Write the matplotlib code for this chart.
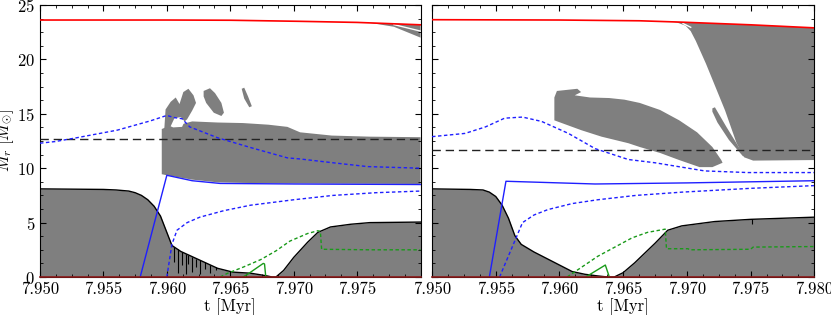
import numpy as np
import matplotlib
matplotlib.use("Agg")
import matplotlib.pyplot as plt
from matplotlib.ticker import MultipleLocator, FormatStrFormatter

plt.rcParams['font.family'] = 'serif'
plt.rcParams['font.serif'] = ['cmr10', 'DejaVu Serif']
plt.rcParams['mathtext.fontset'] = 'cm'
plt.rcParams['axes.formatter.use_mathtext'] = True

GREY = '#7f7f7f'

# ---------------- LEFT PANEL DATA ----------------
L_tot_t = [7.950, 7.960, 7.965, 7.9705, 7.975, 7.980]
L_tot_M = [23.62, 23.62, 23.60, 23.50, 23.40, 23.18]

L_env_t = [7.9745, 7.9758, 7.9779, 7.9800, 7.9800, 7.9779, 7.9758, 7.9745]
L_env_M = [23.42, 23.40, 23.00, 22.00, 23.18, 23.30, 23.38, 23.42]
L_env_gap_t = [7.9779, 7.9800]
L_env_gap_M = [23.20, 22.60]

L_band_t = [7.9596, 7.9600, 7.9610, 7.9620, 7.9640, 7.9660, 7.9680, 7.9695, 7.9705, 7.9730, 7.9760, 7.9800]
L_band_hi = [13.6, 13.8, 14.0, 14.3, 14.2, 14.15, 14.0, 13.8, 13.3, 13.0, 12.9, 12.85]
L_band_lo = [9.45, 9.35, 9.15, 8.95, 8.70, 8.65, 8.62, 8.60, 8.60, 8.58, 8.57, 8.55]

L_blobA_t = [7.9598, 7.9599, 7.9603, 7.9607, 7.9610, 7.9613, 7.9617, 7.9621, 7.9623, 7.9620, 7.9616, 7.9612, 7.9598]
L_blobA_M = [13.6, 15.4, 16.1, 16.5, 15.9, 17.0, 17.3, 16.7, 16.0, 15.3, 14.5, 14.1, 13.6]
L_hole_t = [7.9603, 7.9606, 7.9611, 7.9614, 7.9612, 7.9605]
L_hole_M = [13.85, 14.6, 14.7, 14.3, 13.8, 13.75]
L_blobB_t = [7.9629, 7.9634, 7.9638, 7.9643, 7.9645, 7.9643, 7.9637, 7.9631, 7.9629]
L_blobB_M = [17.1, 17.35, 16.9, 16.0, 15.1, 14.8, 15.1, 16.0, 16.6]
L_blobC_t = [7.9659, 7.9661, 7.9664, 7.9667, 7.9665, 7.9661]
L_blobC_M = [17.3, 17.4, 16.6, 15.7, 15.6, 16.4]

L_core_t = [7.950, 7.955, 7.956, 7.957, 7.9575, 7.958, 7.9585, 7.959, 7.9595, 7.9600, 7.9604,
            7.9611, 7.9626, 7.9640, 7.9652, 7.9666, 7.9674, 7.9679, 7.9683, 7.9686, 7.9692,
            7.9700, 7.9711, 7.9719, 7.9729, 7.9745, 7.9760, 7.9800]
L_core_M = [8.1, 8.05, 8.0, 7.9, 7.75, 7.5, 7.1, 6.5, 5.6, 4.1, 2.9,
            2.35, 1.55, 0.8, 0.45, 0.35, 0.2, 0.1, 0.0, 0.0, 0.6,
            1.8, 3.2, 4.1, 4.6, 4.85, 5.0, 5.05]

L_spike_t = [7.9606, 7.9609, 7.9612, 7.9615, 7.9617, 7.9620, 7.9623, 7.9626, 7.9630, 7.9634, 7.9639]
L_spike_hi = [2.8, 2.6, 2.3, 2.15, 2.0, 1.85, 1.7, 1.55, 1.35, 1.1, 0.9]
L_spike_lo = [1.4, 0.4, 1.1, 0.3, 1.2, 0.5, 0.9, 0.3, 0.7, 0.4, 0.6]

L_bsol_t = [7.9579, 7.9600, 7.9620, 7.9642, 7.9700, 7.9800]
L_bsol_M = [0.0, 9.35, 8.85, 8.60, 8.55, 8.50]

L_bdlo_t = [7.9600, 7.9602, 7.9604, 7.9608, 7.9616, 7.9626, 7.9645, 7.9666, 7.9700, 7.9731, 7.9765, 7.9800]
L_bdlo_M = [0.0, 1.5, 3.0, 4.3, 5.0, 5.5, 6.1, 6.6, 7.1, 7.5, 7.75, 7.9]

L_bdhi_t = [7.9500, 7.9512, 7.9529, 7.9561, 7.9587, 7.9600, 7.9606, 7.9612, 7.9618, 7.9640,
            7.9666, 7.9695, 7.9705, 7.9731, 7.9758, 7.9800]
L_bdhi_M = [12.3, 12.45, 12.8, 13.5, 14.35, 14.85, 14.65, 14.55, 13.8, 12.8,
            11.9, 10.95, 10.85, 10.5, 10.15, 10.0]

L_gsol_t = [7.9660, 7.9663, 7.9676, 7.9677, 7.9678]
L_gsol_M = [0.0, 0.2, 1.25, 1.2, 0.0]

L_gdash_t = [7.9642, 7.9648, 7.9660, 7.9674, 7.9686, 7.9697, 7.9711, 7.9719, 7.9721, 7.9722, 7.9760, 7.9800]
L_gdash_M = [0.0, 0.35, 0.9, 1.6, 2.4, 3.3, 4.0, 4.25, 4.2, 2.55, 2.5, 2.5]

L_ref_M = 12.65

# ---------------- RIGHT PANEL DATA ----------------
R_tot_t = [7.950, 7.960, 7.9663, 7.9697, 7.9750, 7.9800]
R_tot_M = [23.65, 23.62, 23.55, 23.42, 23.18, 22.90]

R_env_t = [7.9683, 7.9692, 7.9699, 7.9703, 7.9707, 7.9715, 7.9730, 7.9739, 7.9745, 7.9752, 7.9800,
           7.9800, 7.9750, 7.9697, 7.9683]
R_env_M = [23.52, 23.40, 23.10, 22.60, 21.7, 19.6, 15.3, 12.3, 11.0, 10.70, 10.75,
           22.90, 23.18, 23.42, 23.52]
R_env_gap_t = [7.9697, 7.9703]
R_env_gap_M = [23.30, 22.95]

R_sliver_t = [7.9720, 7.9722, 7.9731, 7.9741, 7.9747, 7.9744, 7.9733, 7.9724, 7.9720]
R_sliver_M = [15.5, 15.6, 13.8, 11.9, 11.1, 11.1, 12.6, 14.2, 15.2]

R_blob_t = [7.9596, 7.9596, 7.9598, 7.9614, 7.9617, 7.9612, 7.9624, 7.9639, 7.9651, 7.9663,
            7.9679, 7.9694, 7.9708, 7.9720, 7.9727, 7.9728, 7.9720, 7.9710, 7.9694, 7.9679,
            7.9663, 7.9654, 7.9633, 7.9617, 7.9596]
R_blob_M = [14.4, 16.5, 17.1, 17.3, 17.0, 16.7, 16.5, 16.45, 16.3, 16.0,
            15.35, 14.4, 13.3, 11.95, 10.75, 10.5, 10.1, 10.1, 10.75, 11.4,
            11.95, 12.3, 12.9, 13.5, 14.4]

R_core_t = [7.950, 7.953, 7.954, 7.9545, 7.955, 7.9555, 7.956, 7.9565, 7.957, 7.958, 7.959,
            7.960, 7.961, 7.962, 7.963, 7.9638, 7.9643, 7.9650, 7.9659, 7.9667, 7.9675,
            7.9685, 7.9696, 7.9722, 7.9750, 7.9800]
R_core_M = [8.1, 8.05, 8.0, 7.8, 7.4, 6.6, 5.4, 3.8, 3.0, 2.3, 1.7,
            1.1, 0.5, 0.25, 0.1, 0.0, 0.0, 0.4, 1.3, 2.2, 3.1,
            4.3, 4.7, 5.1, 5.3, 5.5]
R_spike_t = [7.9751]
R_spike_hi = [5.35]
R_spike_lo = [4.9]

R_bsol_t = [7.9545, 7.9558, 7.9628, 7.9700, 7.9800]
R_bsol_M = [0.0, 8.8, 8.55, 8.65, 8.85]

R_bdlo_t = [7.9553, 7.9562, 7.9571, 7.9580, 7.9591, 7.9610, 7.9630, 7.9660, 7.9696, 7.9750, 7.9800]
R_bdlo_M = [0.0, 2.5, 5.0, 5.7, 6.2, 6.75, 7.1, 7.5, 7.8, 8.15, 8.4]

R_bdhi_t = [7.9500, 7.9526, 7.9542, 7.9557, 7.9571, 7.9586, 7.9607, 7.9628, 7.9654, 7.9675,
            7.9714, 7.9748, 7.9800]
R_bdhi_M = [12.9, 13.2, 13.8, 14.6, 14.7, 14.3, 13.2, 11.8, 10.8, 10.5,
            9.75, 9.6, 9.6]

R_gsol_t = [7.9621, 7.9622, 7.9636, 7.9639]
R_gsol_M = [0.0, 0.1, 1.1, 0.05]

R_gdash_t = [7.9606, 7.9630, 7.9657, 7.9669, 7.9683, 7.9684, 7.9701, 7.9702, 7.9750, 7.9752, 7.9800]
R_gdash_M = [0.0, 1.9, 3.6, 4.1, 4.4, 2.6, 2.6, 2.5, 2.55, 2.75, 2.8]

R_ref_M = 11.7

L_XTICKS = [7.950, 7.955, 7.960, 7.965, 7.970, 7.975]
R_XTICKS = [7.950, 7.955, 7.960, 7.965, 7.970, 7.975, 7.980]


def draw(ax, d, xticks):
    # convective zones
    ax.fill_between(d['core_t'], 0, d['core_M'], color=GREY, lw=0, zorder=1)
    for pt, pm in d['polys']:
        ax.fill(pt, pm, color=GREY, lw=0, zorder=1)
    for pt, pm in d['holes']:
        ax.fill(pt, pm, color='white', lw=0, zorder=1.5)
    for gt, gm in d['gaps']:
        ax.plot(gt, gm, color='white', lw=1.0, zorder=1.5)
    ax.vlines(d['spike_t'], d['spike_lo'], d['spike_hi'], color='black', lw=0.8, zorder=2)
    ax.plot(d['core_t'], d['core_M'], color='black', lw=1.0, zorder=3)
    # lines
    ax.plot(d['tot_t'], d['tot_M'], color='red', lw=1.2, zorder=4)
    ax.axhline(d['ref'], color='#222222', lw=1.0, dashes=(6, 3.5), zorder=4)
    ax.plot(d['bsol_t'], d['bsol_M'], color='#1f1fff', lw=1.0, zorder=4)
    ax.plot(d['bdlo_t'], d['bdlo_M'], color='#1f1fff', lw=1.0, dashes=(2.5, 1.8), zorder=4)
    ax.plot(d['bdhi_t'], d['bdhi_M'], color='#1f1fff', lw=1.0, dashes=(2.5, 1.8), zorder=4)
    ax.plot(d['gsol_t'], d['gsol_M'], color='#1a9a1a', lw=1.0, zorder=4)
    ax.plot(d['gdash_t'], d['gdash_M'], color='#1a9a1a', lw=1.0, dashes=(2.5, 1.8), zorder=4)
    ax.axhline(0, color='#8b1a1a', lw=1.2, zorder=5, clip_on=False)

    ax.set_xlim(7.950, 7.980)
    ax.set_ylim(0, 25)
    ax.set_xticks(xticks)
    ax.xaxis.set_major_formatter(FormatStrFormatter('%.3f'))
    ax.xaxis.set_minor_locator(MultipleLocator(0.00125))
    ax.yaxis.set_major_locator(MultipleLocator(5))
    ax.yaxis.set_minor_locator(MultipleLocator(1.25))
    ax.tick_params(which='both', direction='in', top=True, right=True, labelsize=12)
    ax.tick_params(which='major', length=4, width=0.8)
    ax.tick_params(which='minor', length=2, width=0.6)
    for s in ax.spines.values():
        s.set_linewidth(0.8)
    ax.set_xlabel('t [Myr]', fontsize=12, labelpad=1)


fig = plt.figure(figsize=(8.31, 3.15), dpi=100)
axL = fig.add_axes([0.0481, 0.1206, 0.4580, 0.8635])
axR = fig.add_axes([0.5199, 0.1206, 0.4600, 0.8635])

left = dict(core_t=L_core_t, core_M=L_core_M,
            polys=[(L_env_t, L_env_M),
                   (L_band_t + L_band_t[::-1], L_band_hi + L_band_lo[::-1]),
                   (L_blobA_t, L_blobA_M), (L_blobB_t, L_blobB_M), (L_blobC_t, L_blobC_M)],
            holes=[(L_hole_t, L_hole_M)],
            gaps=[(L_env_gap_t, L_env_gap_M)],
            spike_t=L_spike_t, spike_lo=L_spike_lo, spike_hi=L_spike_hi,
            tot_t=L_tot_t, tot_M=L_tot_M, ref=L_ref_M,
            bsol_t=L_bsol_t, bsol_M=L_bsol_M, bdlo_t=L_bdlo_t, bdlo_M=L_bdlo_M,
            bdhi_t=L_bdhi_t, bdhi_M=L_bdhi_M, gsol_t=L_gsol_t, gsol_M=L_gsol_M,
            gdash_t=L_gdash_t, gdash_M=L_gdash_M)
right = dict(core_t=R_core_t, core_M=R_core_M,
             polys=[(R_env_t, R_env_M), (R_sliver_t, R_sliver_M), (R_blob_t, R_blob_M)],
             holes=[],
             gaps=[(R_env_gap_t, R_env_gap_M)],
             spike_t=R_spike_t, spike_lo=R_spike_lo, spike_hi=R_spike_hi,
             tot_t=R_tot_t, tot_M=R_tot_M, ref=R_ref_M,
             bsol_t=R_bsol_t, bsol_M=R_bsol_M, bdlo_t=R_bdlo_t, bdlo_M=R_bdlo_M,
             bdhi_t=R_bdhi_t, bdhi_M=R_bdhi_M, gsol_t=R_gsol_t, gsol_M=R_gsol_M,
             gdash_t=R_gdash_t, gdash_M=R_gdash_M)

draw(axL, left, L_XTICKS)
draw(axR, right, R_XTICKS)
axR.tick_params(labelleft=False)
axL.set_ylabel(r'$M_r\ [M_{\odot}]$', fontsize=12, labelpad=0)
axL.yaxis.set_label_coords(-0.062, 0.5)

fig.savefig('out.png', dpi=100)
